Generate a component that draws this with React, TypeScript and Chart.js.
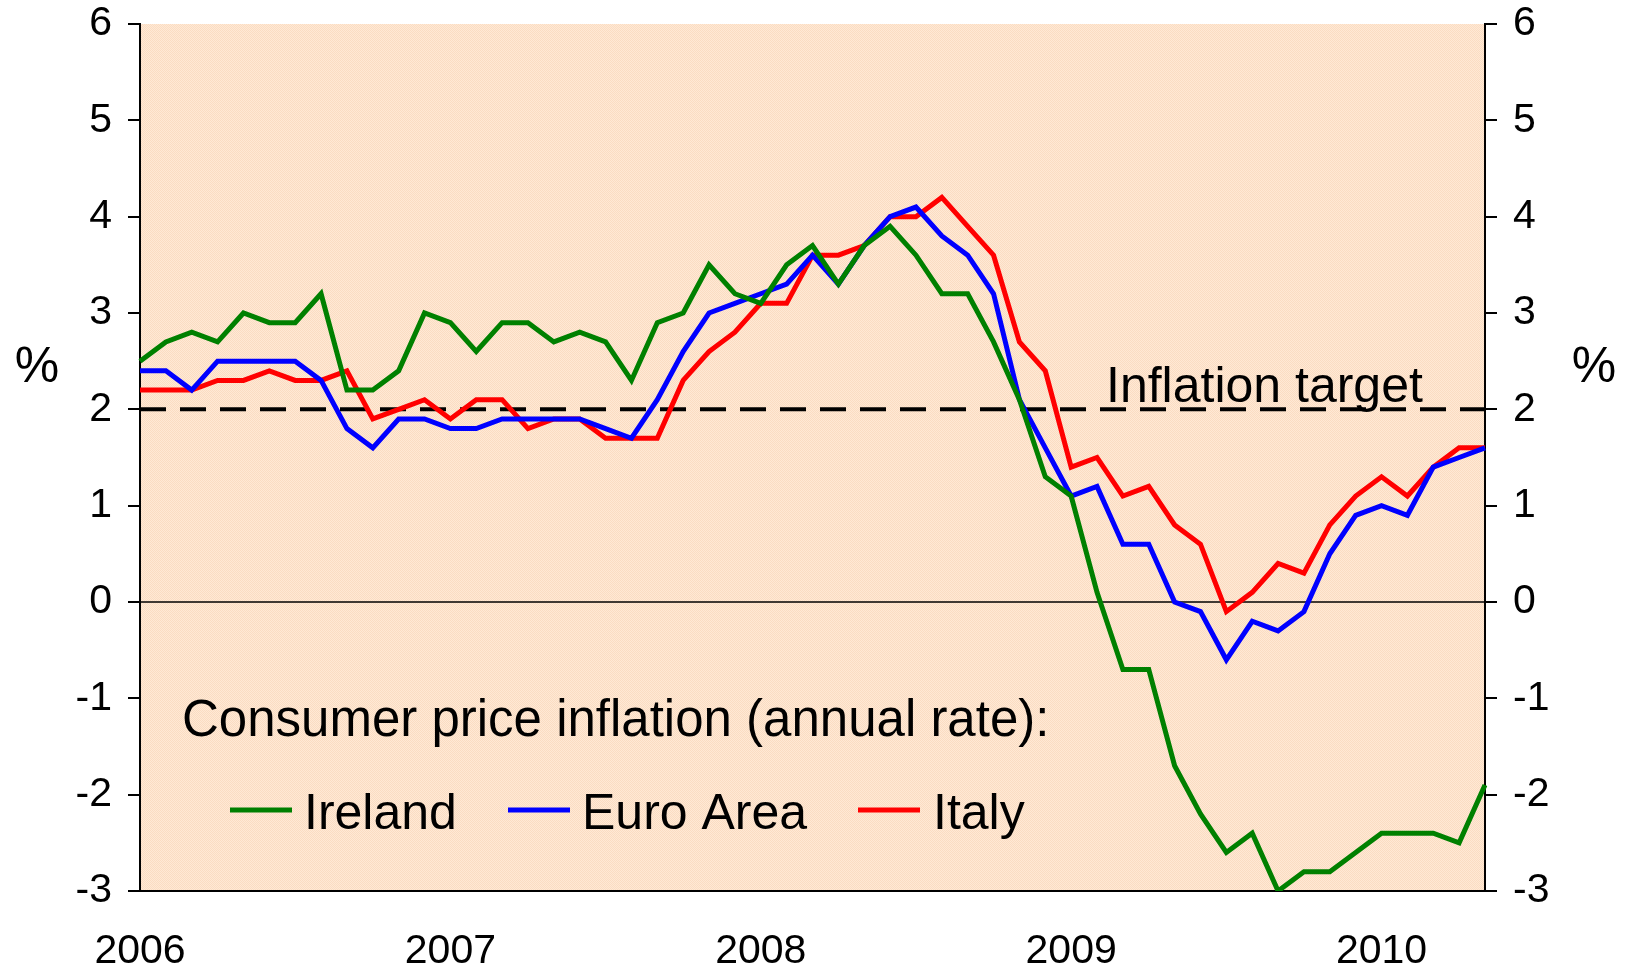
import React, { useEffect, useRef } from 'react';
import { Chart, registerables } from 'chart.js';

Chart.register(...registerables);

// ---- data ----
const YEARS = ['2006', '2007', '2008', '2009', '2010'];
const MONTHS = ['Jan', 'Feb', 'Mar', 'Apr', 'May', 'Jun', 'Jul', 'Aug', 'Sep', 'Oct', 'Nov', 'Dec'];
const LAST_YEAR_MONTHS = 5; // data runs to May 2010

const IRELAND = [
  2.5, 2.7, 2.8, 2.7, 3.0, 2.9, 2.9, 3.2, 2.2, 2.2, 2.4, 3.0,
  2.9, 2.6, 2.9, 2.9, 2.7, 2.8, 2.7, 2.3, 2.9, 3.0, 3.5, 3.2,
  3.1, 3.5, 3.7, 3.3, 3.7, 3.9, 3.6, 3.2, 3.2, 2.7, 2.1, 1.3,
  1.1, 0.1, -0.7, -0.7, -1.7, -2.2, -2.6, -2.4, -3.0, -2.8, -2.8, -2.6,
  -2.4, -2.4, -2.4, -2.5, -1.9,
];
const EURO_AREA = [
  2.4, 2.4, 2.2, 2.5, 2.5, 2.5, 2.5, 2.3, 1.8, 1.6, 1.9, 1.9,
  1.8, 1.8, 1.9, 1.9, 1.9, 1.9, 1.8, 1.7, 2.1, 2.6, 3.0, 3.1,
  3.2, 3.3, 3.6, 3.3, 3.7, 4.0, 4.1, 3.8, 3.6, 3.2, 2.1, 1.6,
  1.1, 1.2, 0.6, 0.6, 0.0, -0.1, -0.6, -0.2, -0.3, -0.1, 0.5, 0.9,
  1.0, 0.9, 1.4, 1.5, 1.6,
];
const ITALY = [
  2.2, 2.2, 2.2, 2.3, 2.3, 2.4, 2.3, 2.3, 2.4, 1.9, 2.0, 2.1,
  1.9, 2.1, 2.1, 1.8, 1.9, 1.9, 1.7, 1.7, 1.7, 2.3, 2.6, 2.8,
  3.1, 3.1, 3.6, 3.6, 3.7, 4.0, 4.0, 4.2, 3.9, 3.6, 2.7, 2.4,
  1.4, 1.5, 1.1, 1.2, 0.8, 0.6, -0.1, 0.1, 0.4, 0.3, 0.8, 1.1,
  1.3, 1.1, 1.4, 1.6, 1.6,
];
const SERIES_NAMES = ['Ireland', 'Euro Area', 'Italy'];
const Y_MIN = -3;
const Y_MAX = 6;
const TARGET = 2;
const TARGET_LABEL = 'Inflation target';
const LEGEND_TITLE = 'Consumer price inflation (annual rate):';
const UNIT = '%';

const CATEGORIES: string[] = [];
YEARS.forEach((y, yi) => {
  const n = yi === YEARS.length - 1 ? LAST_YEAR_MONTHS : 12;
  for (let m = 0; m < n; m++) CATEGORIES.push(MONTHS[m] + ' ' + y);
});

// ---- styles ----
const FONT = '"Liberation Sans", Arial, Helvetica, sans-serif';
const GREEN = '#008000';
const BLUE = '#0000FF';
const RED = '#FF0000';
const BG_A = '#FFE9D5';
const BG_B = '#FADCC2';

function makePattern(ctx: CanvasRenderingContext2D) {
  const c = document.createElement('canvas');
  c.width = 2;
  c.height = 2;
  const p = c.getContext('2d')!;
  p.fillStyle = BG_A;
  p.fillRect(0, 0, 2, 2);
  p.fillStyle = BG_B;
  p.fillRect(0, 0, 1, 1);
  p.fillRect(1, 1, 1, 1);
  return ctx.createPattern(c, 'repeat') || BG_A;
}

const decor = {
  id: 'decor',
  beforeDraw(chart: any) {
    const { ctx, chartArea: a } = chart;
    ctx.save();
    ctx.fillStyle = makePattern(ctx);
    ctx.fillRect(a.left, a.top, a.right - a.left, a.bottom - a.top);
    ctx.restore();
  },
  beforeDatasetsDraw(chart: any) {
    const { ctx, chartArea: a, scales } = chart;
    const y0 = scales.y.getPixelForValue(0);
    const yt = scales.y.getPixelForValue(TARGET);
    ctx.save();
    ctx.strokeStyle = '#000';
    ctx.lineWidth = 1.5;
    ctx.beginPath();
    ctx.moveTo(a.left, y0);
    ctx.lineTo(a.right, y0);
    ctx.stroke();
    ctx.lineWidth = 4;
    ctx.setLineDash([26, 14]);
    ctx.beginPath();
    ctx.moveTo(a.left, yt);
    ctx.lineTo(a.right, yt);
    ctx.stroke();
    ctx.restore();
  },
  afterDraw(chart: any) {
    const { ctx } = chart;
    ctx.save();
    ctx.fillStyle = '#000';
    ctx.textBaseline = 'alphabetic';
    // unit labels
    ctx.font = `50px ${FONT}`;
    ctx.textAlign = 'center';
    ctx.fillText(UNIT, 37, 382);
    ctx.fillText(UNIT, 1594, 382);
    // target label
    ctx.textAlign = 'left';
    ctx.font = `50px ${FONT}`;
    ctx.fillText(TARGET_LABEL, 1106, 402);
    // legend
    ctx.font = `51px ${FONT}`;
    ctx.fillText(LEGEND_TITLE, 182, 736);
    ctx.font = `50px ${FONT}`;
    const colors = [GREEN, BLUE, RED];
    const lineX = [230, 508, 858];
    const textX = [304, 582, 933];
    SERIES_NAMES.forEach((name, i) => {
      ctx.strokeStyle = colors[i];
      ctx.lineWidth = 5;
      ctx.beginPath();
      ctx.moveTo(lineX[i], 810);
      ctx.lineTo(lineX[i] + 62, 810);
      ctx.stroke();
      ctx.fillStyle = '#000';
      ctx.fillText(name, textX[i], 829);
    });
    ctx.restore();
  },
};

export default function App() {
  const ref = useRef<HTMLCanvasElement | null>(null);
  useEffect(() => {
    document.body.style.margin = '0';
    const canvas = ref.current;
    if (!canvas) return;
    const yAxisCommon = {
      type: 'linear' as const,
      min: Y_MIN,
      max: Y_MAX,
      ticks: {
        stepSize: 1,
        color: '#000',
        font: { family: FONT, size: 41 },
        padding: 16,
      },
      grid: {
        drawOnChartArea: false,
        drawTicks: true,
        tickLength: 12,
        color: '#000',
        lineWidth: 2,
      },
      border: { display: true, color: '#000', width: 2 },
      afterFit: (s: any) => {
        s.width = 140;
        s.paddingTop = 0;
        s.paddingBottom = 0;
      },
    };
    const chart = new Chart(canvas, {
      type: 'line',
      data: {
        labels: CATEGORIES,
        datasets: [
          { label: SERIES_NAMES[0], data: IRELAND, borderColor: GREEN, borderWidth: 5, pointRadius: 0, tension: 0, yAxisID: 'y' },
          { label: SERIES_NAMES[1], data: EURO_AREA, borderColor: BLUE, borderWidth: 5, pointRadius: 0, tension: 0, yAxisID: 'y' },
          { label: SERIES_NAMES[2], data: ITALY, borderColor: RED, borderWidth: 5, pointRadius: 0, tension: 0, yAxisID: 'y' },
        ],
      },
      options: {
        responsive: false,
        animation: false,
        layout: { padding: { top: 24, left: 0, right: 0, bottom: 0 } },
        plugins: { legend: { display: false }, tooltip: { enabled: false } },
        scales: {
          x: {
            type: 'category',
            offset: false,
            grid: { display: false },
            border: { display: true, color: '#000', width: 2 },
            ticks: {
              autoSkip: false,
              maxRotation: 0,
              minRotation: 0,
              color: '#000',
              font: { family: FONT, size: 41 },
              padding: 28,
              callback: (_v: any, i: number) => (i % 12 === 0 ? YEARS[i / 12] : ''),
            },
            afterFit: (s: any) => {
              s.height = 78;
              s.paddingLeft = 0;
              s.paddingRight = 0;
            },
          },
          y: { ...yAxisCommon, position: 'left' },
          y2: { ...yAxisCommon, position: 'right' },
        },
      },
      plugins: [decor],
    });
    return () => chart.destroy();
  }, []);
  return (
    <div style={{ width: 1625, height: 969 }}>
      <canvas ref={ref} width={1625} height={969} style={{ display: 'block' }} />
    </div>
  );
}
